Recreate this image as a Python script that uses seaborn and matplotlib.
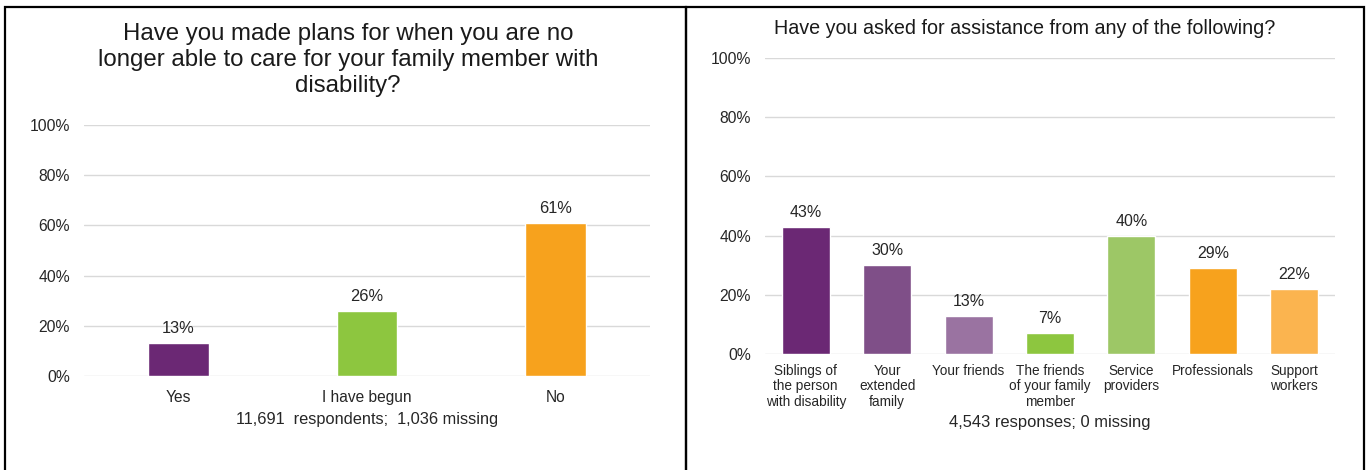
import matplotlib
matplotlib.use("Agg")
import matplotlib.pyplot as plt
from matplotlib.patches import Rectangle
import seaborn as sns
import pandas as pd

# Survey question 1: plans for future care
plan_categories = ["Yes", "I have begun", "No"]
plan_values = [13, 26, 61]
plan_colors = ["#6B2874", "#8DC63F", "#F7A21D"]
plan_title = ("Have you made plans for when you are no\n"
              "longer able to care for your family member with\n"
              "disability?")
plan_note = "11,691  respondents;  1,036 missing"

# Survey question 2: sources of assistance
help_categories = [
    "Siblings of\nthe person\nwith disability",
    "Your\nextended\nfamily",
    "Your friends",
    "The friends\nof your family\nmember",
    "Service\nproviders",
    "Professionals",
    "Support\nworkers",
]
help_values = [43, 30, 13, 7, 40, 29, 22]
help_colors = ["#6B2874", "#7F4F88", "#9A73A1", "#8DC63F", "#9DC766",
               "#F7A21D", "#FBB44F"]
help_title = "Have you asked for assistance from any of the following?"
help_note = "4,543 responses; 0 missing"

yticks = [0, 20, 40, 60, 80, 100]

sns.set_theme(style="white")
plt.rcParams["font.family"] = ["Liberation Sans", "DejaVu Sans"]

W, H = 1370, 470
fig = plt.figure(figsize=(W / 100, H / 100), dpi=100)
TXT = "#262626"


def px_axes(x0, x1, ytop, ybot):
    return fig.add_axes([x0 / W, 1 - ybot / H, (x1 - x0) / W, (ybot - ytop) / H])


def draw_panel(ax, cats, vals, colors, bar_width, tick_size, label_size):
    df = pd.DataFrame({"cat": cats, "val": vals})
    sns.barplot(data=df, x="cat", y="val", hue="cat", palette=colors,
                width=bar_width, legend=False, ax=ax, saturation=1)
    ax.set_ylim(0, 100)
    ax.set_yticks(yticks)
    ax.set_yticklabels([f"{t}%" for t in yticks], fontsize=tick_size, color=TXT)
    ax.grid(axis="y", color="#D9D9D9", linewidth=1.0)
    ax.set_axisbelow(True)
    for s in ax.spines.values():
        s.set_visible(False)
    ax.tick_params(axis="both", length=0)
    ax.tick_params(axis="y", pad=10)
    ax.set_ylabel("")
    for cont in ax.containers:
        ax.bar_label(cont, fmt="%.0f%%", padding=5, fontsize=label_size, color=TXT)


# Left panel
axL = px_axes(84, 650, 125, 376)
draw_panel(axL, plan_categories, plan_values, plan_colors, 0.32, 11.3, 11.8)
axL.set_xticks(range(len(plan_categories)))
axL.set_xticklabels(plan_categories, fontsize=11.2, color=TXT)
axL.tick_params(axis="x", pad=10)
axL.set_xlabel(plan_note, fontsize=11.8, color=TXT, labelpad=5)
fig.text(348 / W, 1 - 60 / H, plan_title, ha="center", va="center",
         fontsize=17.3, color="#1a1a1a", linespacing=1.21)

# Right panel
axR = px_axes(765, 1335, 58, 354)
draw_panel(axR, help_categories, help_values, help_colors, 0.59, 11.3, 11.5)
axR.set_xticks(range(len(help_categories)))
axR.set_xticklabels(help_categories, fontsize=9.8, color=TXT, linespacing=1.15)
axR.tick_params(axis="x", pad=7)
axR.set_xlabel(help_note, fontsize=11.9, color=TXT, labelpad=4)
fig.text(1025 / W, 1 - 29 / H, help_title, ha="center", va="center",
         fontsize=14.2, color="#1a1a1a")

# Panel frames
for x0, x1 in [(5, 686), (686, 1364)]:
    fig.add_artist(Rectangle((x0 / W, -0.05), (x1 - x0) / W, 1.05 - 7 / H,
                             transform=fig.transFigure, fill=False,
                             edgecolor="black", linewidth=1.6))

fig.savefig("out.png", dpi=100, facecolor="white")
